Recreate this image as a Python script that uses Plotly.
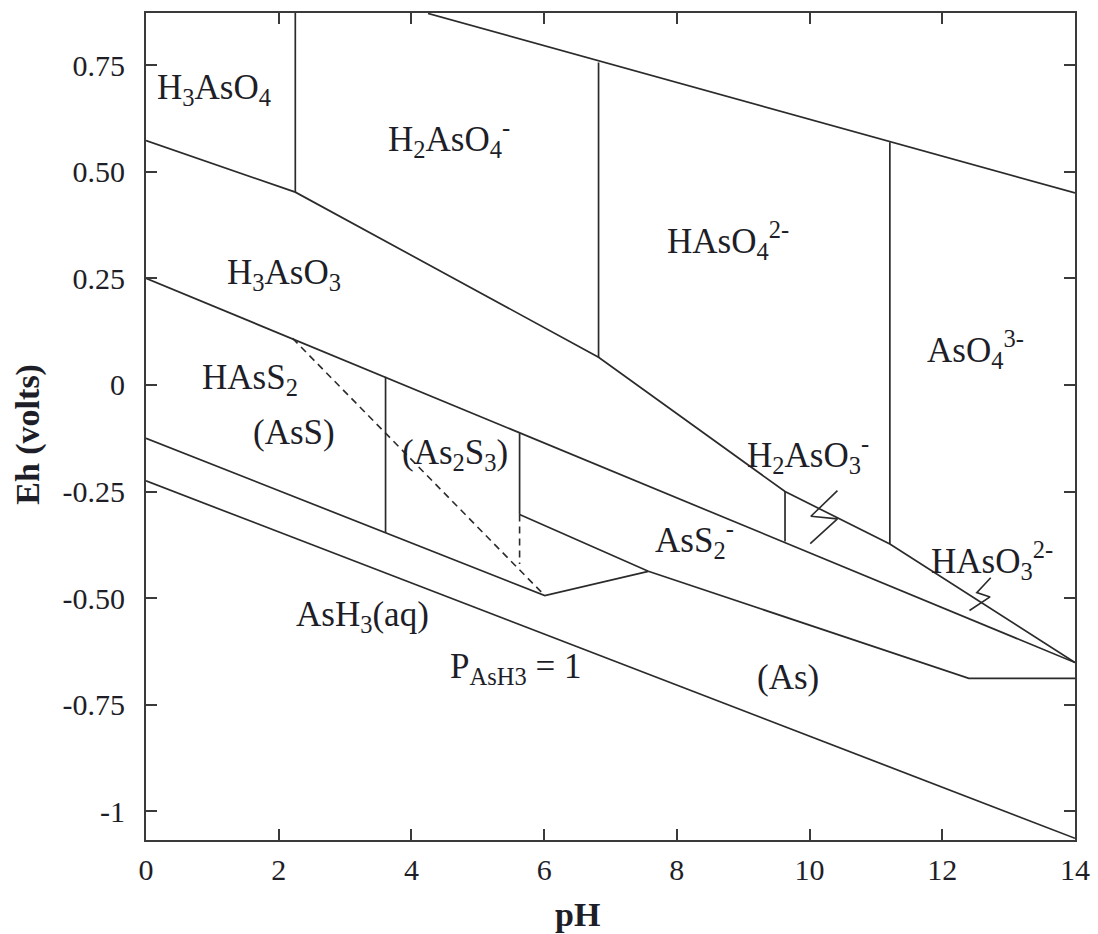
import plotly.graph_objects as go

# ---------------- data ----------------
# upper stability line
o2_ph = [4.25, 14.0]
o2_eh = [0.871, 0.450]

# H3AsO4 / H2AsO4- / ... upper boundary of arsenite species
ox_ph = [0.0, 2.25, 6.82, 9.63, 11.21, 14.0]
ox_eh = [0.573, 0.452, 0.065, -0.250, -0.373, -0.651]

# arsenite / sulfide boundary
sulf_ph = [0.0, 14.0]
sulf_eh = [0.250, -0.651]

# AsS / AsH3 lower boundary
ass_ph = [0.0, 6.01, 7.57]
ass_eh = [-0.125, -0.494, -0.437]

# As2S3 / AsS2- / As boundary
as_ph = [5.63, 7.57, 12.40, 14.0]
as_eh = [-0.304, -0.437, -0.688, -0.688]

# water reduction line
h2_ph = [0.0, 14.0]
h2_eh = [-0.225, -1.063]

# vertical boundaries: pH, Eh top, Eh bottom
vert_ph = [2.25, 6.82, 11.21, 9.63, 3.61, 5.63]
vert_top = [0.872, 0.756, 0.569, -0.250, 0.019, -0.113]
vert_bot = [0.452, 0.065, -0.373, -0.367, -0.347, -0.304]

# dashed boundaries
dash_diag_ph = [2.21, 6.01]
dash_diag_eh = [0.109, -0.494]
dash_vert_ph = [5.63, 5.63]
dash_vert_eh = [-0.304, -0.420]

# label break marks (zigzags)
zig1_ph = [10.42, 10.02, 10.42, 10.01]
zig1_eh = [-0.248, -0.308, -0.314, -0.372]
zig2_ph = [12.73, 12.52, 12.72, 12.41]
zig2_eh = [-0.452, -0.487, -0.497, -0.529]

# region labels
label_text = [
    "H<sub>3</sub>AsO<sub>4</sub>",
    "H<sub>2</sub>AsO<sub>4</sub><sup>-</sup>",
    "HAsO<sub>4</sub><sup>2-</sup>",
    "H<sub>3</sub>AsO<sub>3</sub>",
    "AsO<sub>4</sub><sup>3-</sup>",
    "HAsS<sub>2</sub>",
    "(AsS)",
    "(As<sub>2</sub>S<sub>3</sub>)",
    "H<sub>2</sub>AsO<sub>3</sub><sup>-</sup>",
    "AsS<sub>2</sub><sup>-</sup>",
    "HAsO<sub>3</sub><sup>2-</sup>",
    "AsH<sub>3</sub>(aq)",
    "P<sub>AsH3</sub> = 1",
    "(As)",
]
label_ph = [1.03, 4.56, 8.77, 2.08, 12.50, 1.56, 2.23, 4.65, 9.98, 8.27, 12.75, 3.27, 5.57, 9.68]
label_eh = [0.693, 0.578, 0.339, 0.260, 0.082, 0.012, -0.112, -0.164, -0.164, -0.363, -0.412, -0.543, -0.665, -0.686]

x_ticks = [0, 2, 4, 6, 8, 10, 12, 14]
y_ticks = [-1, -0.75, -0.5, -0.25, 0, 0.25, 0.5, 0.75]
y_ticktext = ["-1", "-0.75", "-0.50", "-0.25", "0", "0.25", "0.50", "0.75"]

# ---------------- figure ----------------
LINE = "#2b2b2b"
TXT = "#1e1e28"
FONT = "Liberation Serif"
fig = go.Figure()


def add_line(xs, ys, dash=None, width=1.7):
    fig.add_trace(go.Scatter(x=xs, y=ys, mode="lines",
                             line=dict(color=LINE, width=width, dash=dash),
                             hoverinfo="skip", showlegend=False))


add_line(o2_ph, o2_eh)
add_line(ox_ph, ox_eh)
add_line(sulf_ph, sulf_eh)
add_line(ass_ph, ass_eh)
add_line(as_ph, as_eh)
add_line(h2_ph, h2_eh)
for p, t, b in zip(vert_ph, vert_top, vert_bot):
    add_line([p, p], [t, b])
add_line(dash_diag_ph, dash_diag_eh, dash="7px,5px", width=1.6)
add_line(dash_vert_ph, dash_vert_eh, dash="7px,5px", width=1.6)
add_line(zig1_ph, zig1_eh, width=1.6)
add_line(zig2_ph, zig2_eh, width=1.6)

for t, xp, yp in zip(label_text, label_ph, label_eh):
    fig.add_annotation(x=xp, y=yp, xref="x", yref="y", text=t, showarrow=False,
                       xanchor="center", yanchor="middle",
                       font=dict(family=FONT, size=35, color=TXT))

fig.add_annotation(x=-0.127, y=0.49, xref="paper", yref="paper", text="<b>Eh (volts)</b>",
                   textangle=-90, showarrow=False, xanchor="center", yanchor="middle",
                   font=dict(family=FONT, size=34, color=TXT))
fig.add_annotation(x=0.465, y=-0.09, xref="paper", yref="paper", text="<b>pH</b>",
                   showarrow=False, xanchor="center", yanchor="middle",
                   font=dict(family=FONT, size=34, color=TXT))

axis_common = dict(showgrid=False, zeroline=False, showline=True, linecolor="#3a3a3a",
                   linewidth=2, mirror="ticks", ticks="inside", ticklen=11, tickwidth=2,
                   tickcolor="#3a3a3a", tickfont=dict(family=FONT, size=30, color=TXT))

fig.update_xaxes(range=[0, 14], tickvals=x_ticks, ticktext=[str(v) for v in x_ticks],
                 ticklabelstandoff=2, **axis_common)
fig.update_yaxes(range=[-1.067, 0.872], tickvals=y_ticks, ticktext=y_ticktext,
                 ticklabelstandoff=13, **axis_common)

# the page body adds an 8px offset, so the figure is sized/margined to compensate
fig.update_layout(width=1090, height=926, margin=dict(l=138, r=23, t=3, b=94),
                  plot_bgcolor="white", paper_bgcolor="white")

fig.write_html("out.html")
